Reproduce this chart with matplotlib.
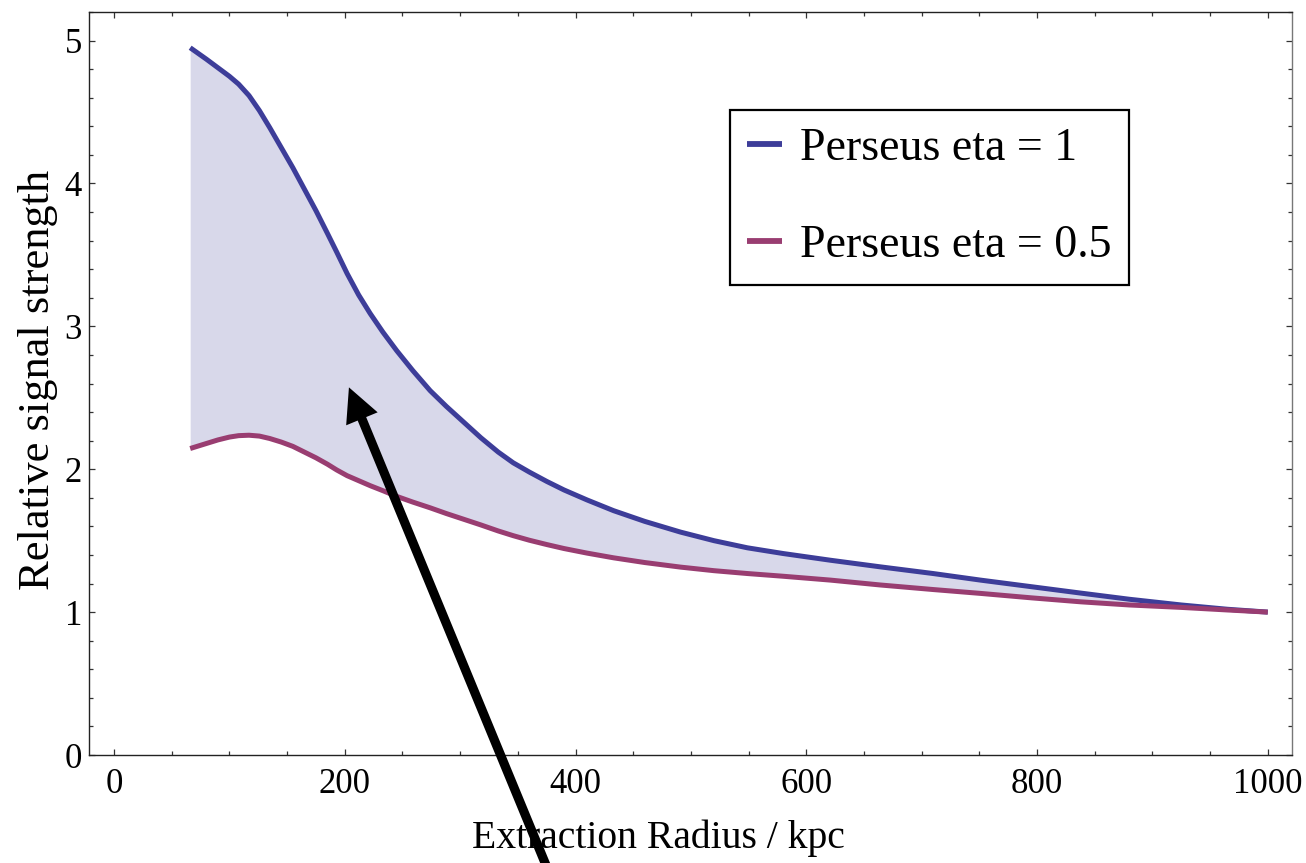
import matplotlib
matplotlib.use("Agg")
import matplotlib.pyplot as plt
from matplotlib.ticker import MultipleLocator

# ---- data ----
radius_kpc = [66, 80, 90, 100, 108, 117, 126, 135, 145, 155, 165, 175, 185,
              193, 202, 212, 222, 233, 245, 259, 274, 288, 303, 318, 333, 346,
              360, 375, 390, 410, 433, 460, 491, 520, 549, 580, 621, 664, 710,
              751, 795, 838, 880, 925, 965, 1000]
signal_eta1 = [4.95, 4.87, 4.81, 4.75, 4.695, 4.615, 4.51, 4.39, 4.25, 4.11,
               3.96, 3.81, 3.65, 3.52, 3.37, 3.22, 3.09, 2.96, 2.83, 2.69,
               2.55, 2.44, 2.33, 2.22, 2.12, 2.045, 1.98, 1.915, 1.855, 1.785,
               1.71, 1.635, 1.56, 1.50, 1.45, 1.41, 1.363, 1.317, 1.27, 1.224,
               1.178, 1.133, 1.09, 1.05, 1.02, 1.0]
signal_eta05 = [2.145, 2.18, 2.205, 2.225, 2.235, 2.238, 2.232, 2.215, 2.19,
                2.16, 2.12, 2.08, 2.035, 1.995, 1.955, 1.92, 1.885, 1.85, 1.81,
                1.77, 1.73, 1.69, 1.65, 1.61, 1.568, 1.535, 1.503, 1.473, 1.445,
                1.413, 1.38, 1.347, 1.315, 1.29, 1.27, 1.251, 1.224, 1.19,
                1.158, 1.131, 1.10, 1.072, 1.05, 1.033, 1.015, 1.0]
series_labels = ["Perseus eta = 1", "Perseus eta = 0.5"]
x_ticks = [0, 200, 400, 600, 800, 1000]
y_ticks = [0, 1, 2, 3, 4, 5]
arrow_tip = (203.6, 2.573)
arrow_tail = (386.8, -1.014)

BLUE = "#3D3D99"
MAGENTA = "#993D71"
FILL = "#D8D8EA"
SERIF = ["Liberation Serif", "DejaVu Serif"]

plt.rcParams["font.family"] = SERIF

fig = plt.figure(figsize=(13.06, 8.63), dpi=100)
ax = fig.add_axes([89 / 1306, 108 / 863, 1203 / 1306, 743 / 863])

ax.fill_between(radius_kpc, signal_eta05, signal_eta1, color=FILL, lw=0, zorder=1)
ax.plot(radius_kpc, signal_eta1, color=BLUE, lw=3.6, solid_capstyle="butt",
        solid_joinstyle="round", label=series_labels[0], zorder=2)
ax.plot(radius_kpc, signal_eta05, color=MAGENTA, lw=3.6, solid_capstyle="butt",
        solid_joinstyle="round", label=series_labels[1], zorder=2.1)

ax.set_xlim(-21.7, 1021)
ax.set_ylim(0, 5.2)
ax.set_xticks(x_ticks)
ax.set_yticks(y_ticks)
ax.xaxis.set_minor_locator(MultipleLocator(50))
ax.yaxis.set_minor_locator(MultipleLocator(0.2))
ax.tick_params(which="both", direction="in", top=True, right=True,
               labeltop=False, labelright=False, width=0.9, color="#333333")
ax.tick_params(which="major", length=4.4)
ax.tick_params(which="minor", length=2.6)
ax.tick_params(axis="x", which="major", pad=9, labelsize=25)
ax.tick_params(axis="y", which="major", pad=5, labelsize=25)
for s in ax.spines.values():
    s.set_linewidth(1.0)
    s.set_color("#222222")
ax.spines["right"].set_color("#777777")

ax.set_xlabel("Extraction Radius / kpc", fontsize=28.5)
ax.xaxis.set_label_coords(0.473, -0.087)
ax.set_ylabel("Relative signal strength", fontsize=32)
ax.yaxis.set_label_coords(-0.026, 0.505)

leg = ax.legend(loc="upper left", bbox_to_anchor=(730 / 1306, 1 - 110 / 863),
                bbox_transform=fig.transFigure, borderaxespad=0,
                fontsize=33, handlelength=0.75, handletextpad=0.4,
                labelspacing=1.2, borderpad=0.38, fancybox=False,
                framealpha=1, edgecolor="black")
leg.get_frame().set_linewidth(1.6)
for ln in leg.get_lines():
    ln.set_linewidth(4.2)

ax.annotate("", xy=arrow_tip, xytext=arrow_tail, xycoords="data",
            textcoords="data", annotation_clip=False,
            arrowprops=dict(width=6.6, headwidth=24.5, headlength=24.5,
                            facecolor="black", edgecolor="none", lw=0,
                            shrink=0),
            zorder=10)

fig.savefig("out.png", dpi=100)
